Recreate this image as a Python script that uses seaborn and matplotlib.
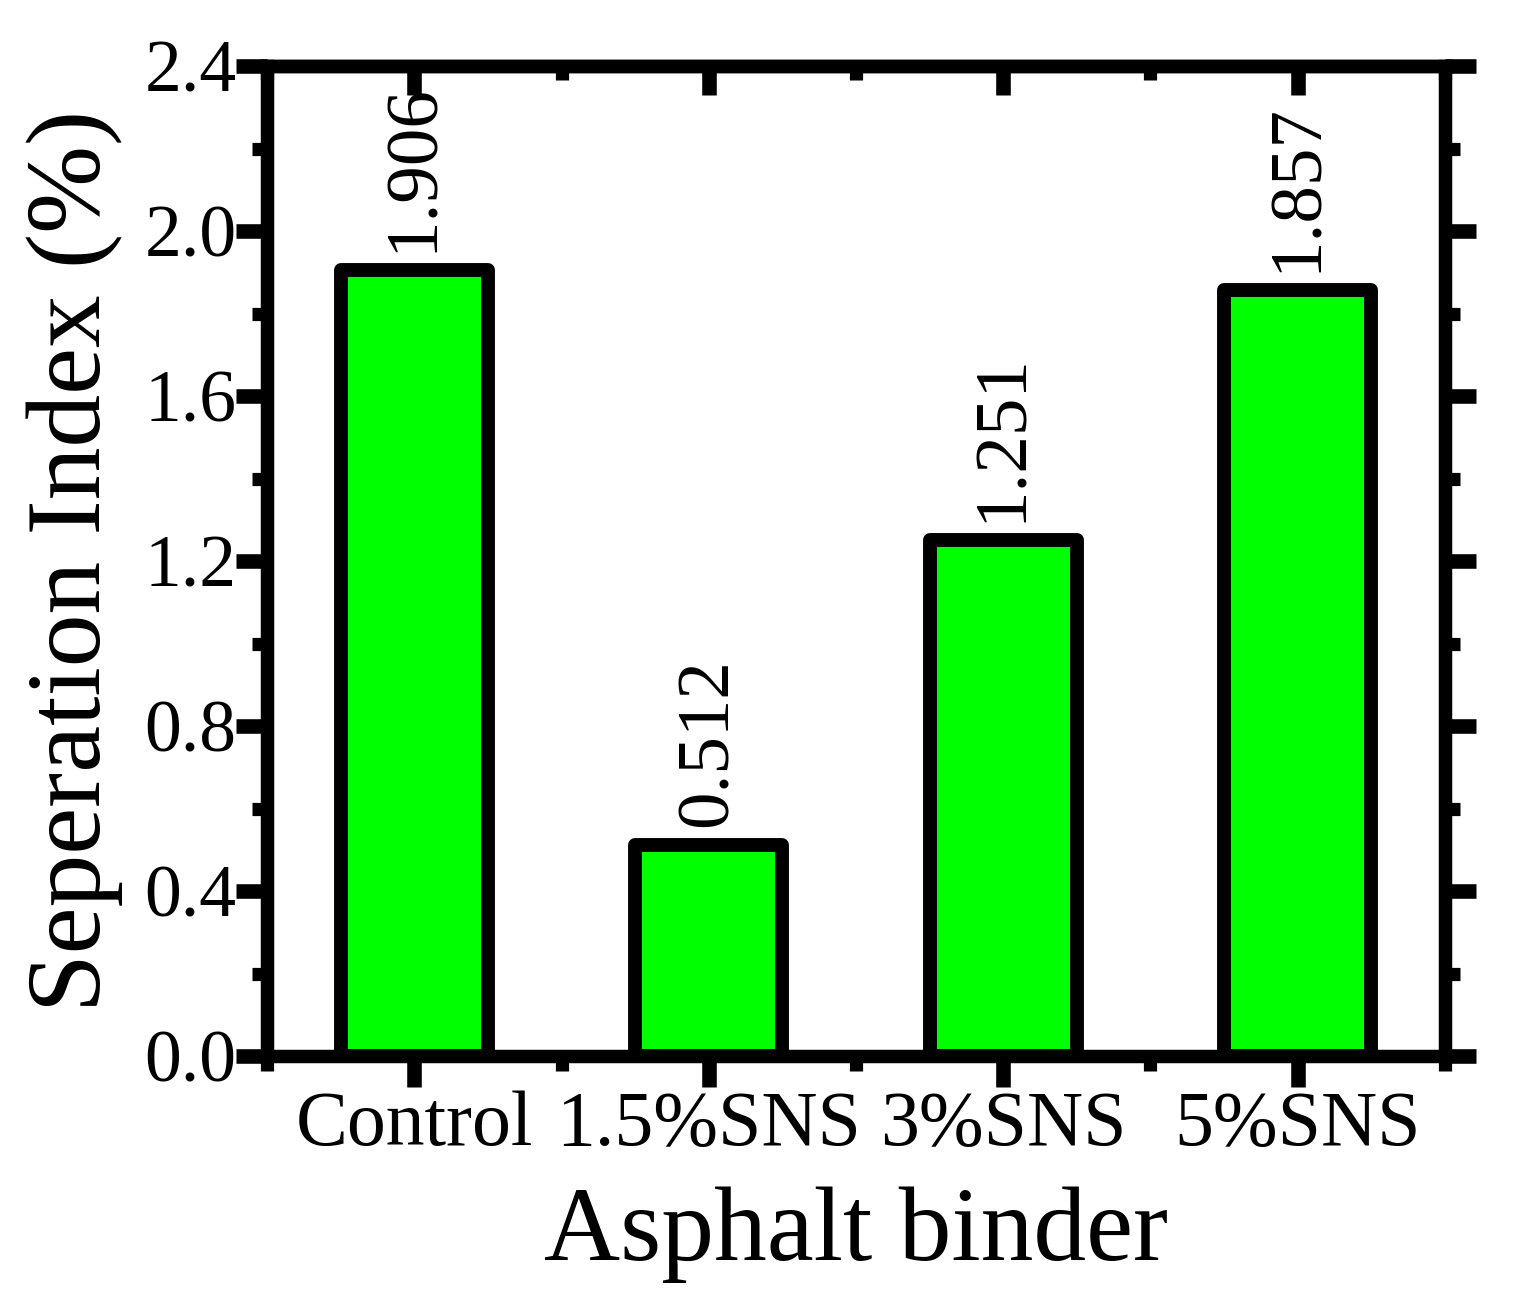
import numpy as np
import pandas as pd
import seaborn as sns
import matplotlib.pyplot as plt
from matplotlib.ticker import FixedLocator, MultipleLocator

sns.set_style('ticks')
plt.rcParams['font.family'] = ['Liberation Serif', 'DejaVu Serif']
for key in ['text.color', 'axes.edgecolor', 'axes.labelcolor', 'xtick.color', 'ytick.color']:
    plt.rcParams[key] = 'black'

# data
binders = ['Control', '1.5%SNS', '3%SNS', '5%SNS']
separation = [1.906, 0.512, 1.251, 1.857]
labels = ['1.906', '0.512', '1.251', '1.857']

df = pd.DataFrame({'binder': binders, 'index': separation})

fig = plt.figure(figsize=(15.14, 13.07), dpi=100)
ax = fig.add_axes([0.1764, 0.192, 0.778, 0.7575])

sns.barplot(data=df, x='binder', y='index', color='#00ff00', width=0.5,
            edgecolor='black', linewidth=10, saturation=1, ax=ax)
for bar in ax.patches:
    bar.set_joinstyle('round')
    bar.set_facecolor('#00ff00')

# value labels above bars
for bar, txt in zip(ax.patches, labels):
    ax.annotate(txt, (bar.get_x() + bar.get_width() / 2, bar.get_height()),
                xytext=(0, 13), textcoords='offset points',
                rotation=90, ha='center', va='bottom', fontsize=54)

ax.set_xlim(-0.5, 3.5)
ax.set_ylim(0, 2.4)
ax.yaxis.set_major_locator(MultipleLocator(0.4))
ax.yaxis.set_minor_locator(MultipleLocator(0.2))
ax.yaxis.set_major_formatter(plt.FormatStrFormatter('%.1f'))
ax.xaxis.set_minor_locator(FixedLocator([-0.5, 0.5, 1.5, 2.5, 3.5]))

for sp in ax.spines.values():
    sp.set_visible(True)
    sp.set_linewidth(9.7)

ax.tick_params(axis='both', which='major', width=10.5, length=22)
ax.tick_params(axis='both', which='minor', width=9.5, length=10.5)
ax.tick_params(axis='y', which='both', direction='out', right=True, pad=0, labelsize=53)
ax.tick_params(axis='x', which='both', direction='out', pad=3, labelsize=56)

# top axis: ticks pointing inwards, no labels
top = ax.secondary_xaxis('top')
top.set_xticks([0, 1, 2, 3])
top.xaxis.set_minor_locator(FixedLocator([-0.5, 0.5, 1.5, 2.5, 3.5]))
top.tick_params(which='major', direction='in', width=10.5, length=21, labeltop=False)
top.tick_params(which='minor', direction='in', width=9.5, length=10)
top.spines['top'].set_linewidth(9.7)

ax.set_xlabel('Asphalt binder', fontsize=76)
ax.set_ylabel('Seperation Index (%)', fontsize=76)
ax.xaxis.label.set_va('baseline')
ax.yaxis.label.set_va('baseline')
ax.xaxis.set_label_coords(0.5, -0.206)
ax.yaxis.set_label_coords(-0.1418, 0.5)

fig.savefig('out.png', dpi=100)
